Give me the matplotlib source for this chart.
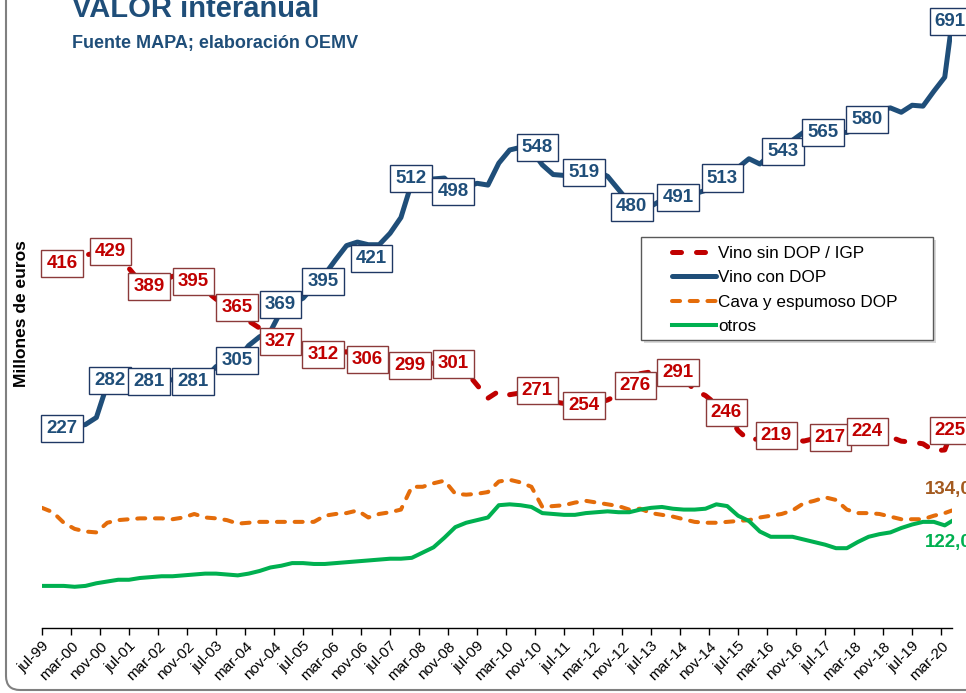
import matplotlib
matplotlib.use('Agg')
import matplotlib.pyplot as plt
from matplotlib.patches import Rectangle, FancyBboxPatch
from matplotlib.transforms import IdentityTransform

plt.rcParams['font.family'] = ['Liberation Sans', 'DejaVu Sans']

# months counted from jul-99 (0), quarterly readings + last month (jun-20)
months = list(range(0, 250, 3)) + [251]

vino_con_dop = [227, 227, 228, 229, 232, 240, 278, 282, 282, 281, 281, 282,
                283, 281, 281, 285, 298, 303, 306, 322, 332, 338, 362, 370,
                376, 390, 403, 420, 436, 440, 437, 437, 450, 468, 508, 503,
                512, 513, 500, 503, 507, 505, 530, 545, 548, 545, 528, 517,
                516, 518, 519, 521, 515, 500, 485, 481, 481, 488, 490, 492,
                495, 499, 508, 515, 525, 535, 529, 540, 545, 556, 565, 566,
                567, 565, 565, 570, 580, 590, 593, 588, 596, 595, 612, 628,
                691]

vino_sin_dop = [416, 418, 417, 420, 425, 428, 430, 418, 410, 395, 390, 395,
                401, 398, 395, 385, 375, 368, 360, 350, 342, 333, 327, 324,
                322, 315, 311, 313, 315, 308, 306, 300, 298, 299, 300, 301,
                302, 302, 301, 292, 277, 262, 270, 266, 268, 271, 266, 258,
                256, 254, 254, 256, 260, 266, 276, 290, 292, 291, 291, 285,
                271, 265, 255, 245, 225, 214, 216, 219, 219, 217, 213, 216,
                217, 218, 222, 224, 225, 222, 218, 213, 212, 210, 202, 203,
                225]

cava = [137, 132, 120, 113, 110, 109, 120, 123, 124, 125, 125, 125,
        124, 126, 130, 126, 125, 123, 119, 120, 121, 121, 121, 121,
        121, 121, 128, 130, 131, 134, 126, 130, 132, 135, 161, 161,
        165, 168, 153, 152, 153, 155, 167, 169, 166, 161, 138, 139,
        140, 143, 145, 143, 141, 139, 135, 136, 131, 129, 127, 124,
        121, 120, 120, 121, 122, 123, 126, 128, 130, 134, 142, 145,
        149, 146, 135, 131, 131, 130, 127, 124, 124, 124, 128, 131,
        134]

otros = [48, 48, 48, 47, 48, 51, 53, 55, 55, 57, 58, 59,
         59, 60, 61, 62, 62, 61, 60, 62, 65, 69, 71, 74,
         74, 73, 73, 74, 75, 76, 77, 78, 79, 79, 80, 86,
         92, 103, 115, 120, 123, 126, 140, 141, 140, 138, 131, 130,
         129, 129, 131, 132, 133, 132, 132, 135, 137, 138, 136, 135,
         135, 136, 141, 139, 128, 122, 110, 104, 104, 104, 101, 98,
         95, 91, 91, 98, 104, 107, 109, 114, 118, 121, 121, 117,
         122]

con_dop_labels = [227, 282, 281, 281, 305, 369, 395, 421, 512, 498,
                  548, 519, 480, 491, 513, 543, 565, 580, 691]
sin_dop_labels = [416, 429, 389, 395, 365, 327, 312, 306, 299, 301,
                  271, 254, 276, 291, 246, 219, 217, 224, 225]

# where the label boxes sit along the time axis
con_dop_label_pos = [5.5, 18.8, 29.5, 41.7, 53.8, 65.7, 77.5, 90.8, 101.8, 113.4,
                     136.6, 149.5, 162.7, 175.4, 187.6, 204.4, 215.4, 227.6, 250.5]
sin_dop_label_pos = [5.5, 18.8, 29.5, 41.7, 53.8, 65.7, 77.5, 89.7, 101.5, 113.4,
                     136.6, 149.5, 163.6, 175.4, 188.7, 202.5, 217.4, 227.6, 250.5]

mes = ['ene', 'feb', 'mar', 'abr', 'may', 'jun', 'jul', 'ago', 'sep', 'oct', 'nov', 'dic']

c_red = '#C00000'
c_blue = '#1F4E79'
c_orange = '#E46C0A'
c_green = '#00B050'


def month_label(i):
	m = (6 + i) % 12
	y = 1999 + (6 + i) // 12
	return mes[m] + '-' + '%02d' % (y % 100)


def main():
	fig = plt.figure(figsize=(9.66, 6.93), dpi=100)
	ax = fig.add_axes([42 / 966, 65 / 693, 910 / 966, 628 / 693])
	ax.patch.set_alpha(0)

	l1, = ax.plot(months, vino_sin_dop, color=c_red, lw=3.6,
	              linestyle=(0, (1.8, 3.0)), dash_capstyle='round', zorder=3)
	l2, = ax.plot(months, vino_con_dop, color=c_blue, lw=3.6,
	              solid_capstyle='round', zorder=3)
	l3, = ax.plot(months, cava, color=c_orange, lw=2.9,
	              linestyle=(0, (2.0, 2.4)), dash_capstyle='round', zorder=3)
	l4, = ax.plot(months, otros, color=c_green, lw=2.9, zorder=3)

	ax.set_xlim(0, 251)
	ax.set_ylim(0, 716)

	for s in ['left', 'right', 'top']:
		ax.spines[s].set_visible(False)
	ax.spines['bottom'].set_color('#000000')
	ax.spines['bottom'].set_linewidth(1)
	ax.set_yticks([])

	ticks = list(range(0, 249, 8))
	ax.set_xticks(ticks)
	ax.set_xticklabels([month_label(t) for t in ticks], rotation=45,
	                   ha='right', va='top', rotation_mode='anchor')
	ax.tick_params(axis='x', length=5, width=1, direction='out',
	               labelsize=11, pad=3)

	# data labels
	for x, v in zip(sin_dop_label_pos, sin_dop_labels):
		ax.text(x, v, str(v), ha='center', va='center', fontsize=13.5,
		        fontweight='bold', color=c_red, zorder=10, clip_on=False,
		        bbox=dict(boxstyle='square,pad=0.27', fc='white', ec='#8B3A3A', lw=1))
	for x, v in zip(con_dop_label_pos, con_dop_labels):
		ax.text(x, v, str(v), ha='center', va='center', fontsize=13.5,
		        fontweight='bold', color=c_blue, zorder=10, clip_on=False,
		        bbox=dict(boxstyle='square,pad=0.27', fc='white', ec='#1F3864', lw=1))

	# end values of the two small series
	ax.annotate('%d,0' % cava[-1], (months[-1], cava[-1]), xytext=(-27, 21),
	            textcoords='offset pixels', ha='left', va='center',
	            fontsize=13.5, fontweight='bold', color='#A35A1F',
	            annotation_clip=False)
	ax.annotate('%d,0' % otros[-1], (months[-1], otros[-1]), xytext=(-27, -22),
	            textcoords='offset pixels', ha='left', va='center',
	            fontsize=13.5, fontweight='bold', color=c_green,
	            annotation_clip=False)

	# legend with its own frame
	ax.add_patch(Rectangle((0.6615, 0.4538), 0.321, 0.164, transform=ax.transAxes,
	                       fc='#D9D9D9', ec='none', zorder=5, clip_on=False))
	ax.add_patch(Rectangle((0.658, 0.4586), 0.321, 0.164, transform=ax.transAxes,
	                       fc='white', ec='#595959', lw=1, zorder=5, clip_on=False))
	leg = ax.legend([l1, l2, l3, l4],
	                ['Vino sin DOP / IGP', 'Vino con DOP', 'Cava y espumoso DOP', 'otros'],
	                loc='upper left', bbox_to_anchor=(0.692, 0.609), frameon=False,
	                fontsize=12.3, handlelength=2.6, handletextpad=0.1,
	                labelspacing=0.56, borderpad=0, borderaxespad=0)
	leg.set_zorder(6)

	ax.set_ylabel('Millones de euros', fontsize=12.5, fontweight='bold')
	ax.yaxis.set_label_coords(-13 / 910, 0.5)

	fig.text(72 / 966, 1 - 17 / 693, 'VALOR interanual', fontsize=21,
	         fontweight='bold', color=c_blue, ha='left', va='baseline')
	fig.text(72 / 966, 1 - 48 / 693, 'Fuente MAPA; elaboración OEMV', fontsize=13,
	         fontweight='bold', color=c_blue, ha='left', va='baseline')

	frame = FancyBboxPatch((6, 3), 1100, 800, boxstyle='round,pad=0,rounding_size=14',
	                       transform=IdentityTransform(), fc='none', ec='#808080', lw=1.5)
	fig.add_artist(frame)

	fig.savefig('out.png', dpi=100)


if __name__ == "__main__":
	main()
